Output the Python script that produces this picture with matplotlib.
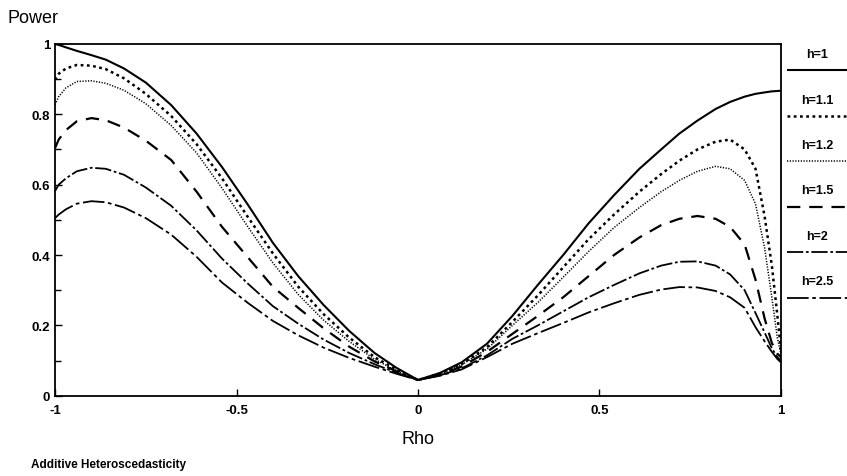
import numpy as np
import matplotlib.pyplot as plt
from matplotlib.lines import Line2D

plt.rcParams['font.family'] = ['Liberation Sans', 'DejaVu Sans']

# rho grid and power curves
rho = [-1, -0.99, -0.97, -0.94, -0.9, -0.86, -0.81, -0.75, -0.68, -0.61, -0.54, -0.47, -0.4,
       -0.33, -0.26, -0.19, -0.12, -0.06, 0, 0.06, 0.12, 0.19, 0.26, 0.33, 0.4, 0.47, 0.54,
       0.61, 0.67, 0.72, 0.77, 0.82, 0.86, 0.9, 0.93, 0.955, 0.975, 0.99, 1]

p_h1 = [1.0, 0.997, 0.99, 0.98, 0.968, 0.955, 0.93, 0.89, 0.826, 0.745, 0.65, 0.545, 0.435,
        0.34, 0.258, 0.185, 0.122, 0.08, 0.045, 0.065, 0.095, 0.148, 0.227, 0.315, 0.40, 0.49, 0.57,
        0.645, 0.70, 0.745, 0.782, 0.815, 0.835, 0.85, 0.858, 0.862, 0.865, 0.866, 0.867]
p_h11 = [0.898, 0.915, 0.93, 0.94, 0.938, 0.928, 0.902, 0.858, 0.795, 0.715, 0.618, 0.51, 0.405,
         0.31, 0.232, 0.166, 0.11, 0.075, 0.045, 0.063, 0.09, 0.138, 0.21, 0.285, 0.365, 0.445, 0.515,
         0.58, 0.63, 0.668, 0.70, 0.722, 0.728, 0.70, 0.645, 0.51, 0.37, 0.23, 0.13]
p_h12 = [0.827, 0.85, 0.875, 0.893, 0.895, 0.888, 0.868, 0.83, 0.768, 0.69, 0.59, 0.482, 0.378,
         0.288, 0.215, 0.155, 0.104, 0.072, 0.045, 0.062, 0.088, 0.133, 0.20, 0.265, 0.337, 0.41, 0.478,
         0.535, 0.58, 0.612, 0.638, 0.652, 0.645, 0.612, 0.545, 0.42, 0.28, 0.165, 0.12]
p_h15 = [0.704, 0.728, 0.755, 0.78, 0.789, 0.783, 0.762, 0.725, 0.67, 0.58, 0.48, 0.395, 0.31,
         0.25, 0.192, 0.14, 0.098, 0.07, 0.045, 0.06, 0.083, 0.125, 0.176, 0.227, 0.28, 0.34, 0.40,
         0.45, 0.485, 0.503, 0.511, 0.503, 0.48, 0.43, 0.33, 0.22, 0.15, 0.12, 0.11]
p_h2 = [0.582, 0.60, 0.618, 0.638, 0.648, 0.645, 0.628, 0.592, 0.54, 0.47, 0.39, 0.32, 0.255,
        0.205, 0.16, 0.122, 0.09, 0.066, 0.045, 0.058, 0.078, 0.115, 0.162, 0.20, 0.24, 0.28, 0.315,
        0.348, 0.37, 0.381, 0.382, 0.37, 0.345, 0.30, 0.235, 0.18, 0.135, 0.11, 0.10]
p_h25 = [0.505, 0.515, 0.53, 0.546, 0.553, 0.55, 0.535, 0.505, 0.458, 0.395, 0.322, 0.265, 0.213,
         0.172, 0.137, 0.108, 0.083, 0.063, 0.045, 0.057, 0.075, 0.11, 0.148, 0.178, 0.207, 0.237, 0.263,
         0.287, 0.302, 0.309, 0.308, 0.298, 0.28, 0.25, 0.195, 0.155, 0.125, 0.105, 0.095]

labels = ['h=1', 'h=1.1', 'h=1.2', 'h=1.5', 'h=2', 'h=2.5']
series = [p_h1, p_h11, p_h12, p_h15, p_h2, p_h25]
styles = [('-', 1.5),
          ((0, (1.1, 1.4)), 1.8),
          ((0, (0.8, 1.0)), 1.1),
          ((0, (6, 4)), 1.6),
          ((0, (9, 1.5, 1.5, 1.5)), 1.3),
          ((0, (12, 2, 2, 2)), 1.3)]

fig = plt.figure(figsize=(8.47, 4.77), dpi=100)
ax = fig.add_axes([0.065, 0.168, 0.857, 0.738])

for vals, (ls, lw) in zip(series, styles):
    ax.plot(rho, vals, color='black', linestyle=ls, linewidth=lw)

ax.set_xlim(-1, 1)
ax.set_ylim(0, 1)
ax.set_xticks([-1, -0.5, 0, 0.5, 1])
ax.set_xticklabels(['-1', '-0.5', '0', '0.5', '1'])
ax.set_yticks([0, 0.2, 0.4, 0.6, 0.8, 1])
ax.set_yticklabels(['0', '0.2', '0.4', '0.6', '0.8', '1'])
ax.set_yticks(np.arange(0.1, 1, 0.2), minor=True)
ax.tick_params(direction='in', length=5, width=1, labelsize=9.5)
ax.tick_params(which='minor', direction='in', length=4, width=1)
for lab in ax.get_xticklabels() + ax.get_yticklabels():
    lab.set_fontweight('bold')
ax.tick_params(axis='x', pad=6)
for s in ax.spines.values():
    s.set_linewidth(1.3)

ax.set_xlabel('Rho', fontsize=13, labelpad=10)
fig.text(0.009, 0.952, 'Power', fontsize=13)
fig.text(0.037, 0.018, 'Additive Heteroscedasticity', fontsize=8.5, fontweight='bold')

# legend column on the right
lax = fig.add_axes([0.929, 0.0, 0.071, 1.0])
lax.set_xlim(0, 1)
lax.set_ylim(477, 0)
lax.axis('off')
for i, (lab, (ls, lw)) in enumerate(zip(labels, styles)):
    y0 = 55 + i * 45.5
    lax.text(0.5, y0, lab, ha='center', va='center', fontsize=9, fontweight='bold')
    lax.add_line(Line2D([0.0, 1.0], [y0 + 16, y0 + 16], color='black', linestyle=ls, linewidth=lw))

fig.savefig('out.png', dpi=100)
